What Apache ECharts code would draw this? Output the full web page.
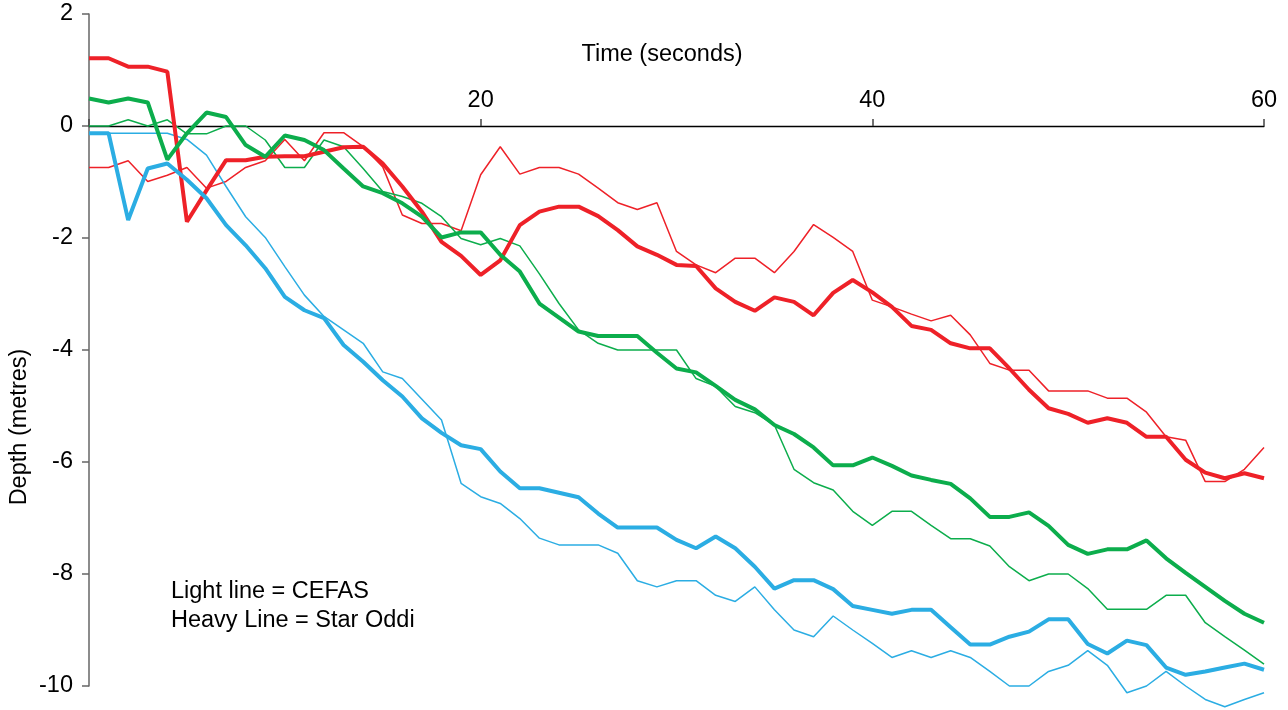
<!DOCTYPE html>
<html>
<head>
<meta charset="utf-8">
<script src="https://cdn.jsdelivr.net/npm/echarts@6/dist/echarts.min.js"></script>
<style>
  html, body { margin: 0; padding: 0; background: #fff; }
  #chart { width: 1288px; height: 710px; }
</style>
</head>
<body>
<div id="chart"></div>
<script>
// time in seconds, one reading per second
const seconds = [];
for (let s = 0; s <= 60; s++) seconds.push(s);

// depth (metres) - light lines = CEFAS
const cefasRed = [-0.74, -0.74, -0.62, -0.99, -0.88, -0.74, -1.11, -0.99, -0.74, -0.62,
  -0.24, -0.62, -0.12, -0.12, -0.37, -0.73, -1.59, -1.74, -1.74, -1.87,
  -0.87, -0.37, -0.86, -0.74, -0.74, -0.86, -1.11, -1.37, -1.49, -1.37,
  -2.24, -2.48, -2.62, -2.36, -2.36, -2.62, -2.24, -1.76, -1.99, -2.24,
  -3.11, -3.23, -3.36, -3.48, -3.38, -3.73, -4.24, -4.36, -4.36, -4.73,
  -4.73, -4.73, -4.86, -4.86, -5.11, -5.55, -5.61, -6.35, -6.35, -6.13, -5.74];
const cefasGreen = [0, 0, 0.11, 0, 0.11, -0.14, -0.14, 0, 0, -0.25,
  -0.74, -0.74, -0.25, -0.37, -0.76, -1.17, -1.26, -1.38, -1.62, -2.01,
  -2.12, -2.01, -2.14, -2.64, -3.17, -3.64, -3.88, -4.0, -4.0, -4.0,
  -4.0, -4.51, -4.65, -5.01, -5.12, -5.34, -6.13, -6.37, -6.5, -6.88,
  -7.13, -6.88, -6.88, -7.13, -7.37, -7.37, -7.5, -7.87, -8.12, -8.0,
  -8.0, -8.26, -8.63, -8.63, -8.63, -8.38, -8.38, -8.87, -9.12, -9.36, -9.61];
const cefasBlue = [-0.13, -0.13, -0.13, -0.13, -0.13, -0.24, -0.52, -1.08, -1.62, -1.99,
  -2.51, -3.02, -3.4, -3.64, -3.88, -4.39, -4.51, -4.88, -5.25, -6.38,
  -6.62, -6.74, -7.01, -7.36, -7.48, -7.48, -7.48, -7.63, -8.12, -8.23,
  -8.12, -8.12, -8.38, -8.49, -8.23, -8.64, -9.0, -9.12, -8.75, -9.0,
  -9.24, -9.49, -9.37, -9.49, -9.37, -9.49, -9.74, -10.0, -10.0, -9.74,
  -9.63, -9.37, -9.63, -10.12, -10.0, -9.74, -10.0, -10.24, -10.37, -10.24, -10.12];

// depth (metres) - heavy lines = Star Oddi
const oddiRed = [1.21, 1.21, 1.06, 1.06, 0.97, -1.71, -1.15, -0.61, -0.61, -0.55,
  -0.54, -0.54, -0.46, -0.38, -0.37, -0.67, -1.08, -1.53, -2.07, -2.32,
  -2.66, -2.4, -1.77, -1.53, -1.44, -1.44, -1.61, -1.86, -2.15, -2.3,
  -2.48, -2.5, -2.9, -3.14, -3.3, -3.06, -3.14, -3.38, -2.98, -2.75,
  -2.97, -3.23, -3.57, -3.64, -3.88, -3.97, -3.97, -4.33, -4.71, -5.04,
  -5.14, -5.3, -5.22, -5.3, -5.55, -5.55, -5.96, -6.19, -6.29, -6.2, -6.29];
const oddiGreen = [0.49, 0.42, 0.49, 0.42, -0.6, -0.13, 0.24, 0.16, -0.34, -0.55,
  -0.17, -0.25, -0.43, -0.76, -1.08, -1.2, -1.38, -1.62, -1.99, -1.9,
  -1.9, -2.3, -2.6, -3.17, -3.42, -3.67, -3.75, -3.75, -3.75, -4.05,
  -4.33, -4.4, -4.64, -4.89, -5.06, -5.34, -5.5, -5.74, -6.06, -6.06,
  -5.92, -6.07, -6.24, -6.32, -6.39, -6.65, -6.98, -6.98, -6.9, -7.14,
  -7.48, -7.64, -7.56, -7.56, -7.4, -7.72, -7.98, -8.23, -8.48, -8.71, -8.87];
const oddiBlue = [-0.13, -0.13, -1.68, -0.76, -0.67, -0.96, -1.29, -1.77, -2.13, -2.54,
  -3.05, -3.29, -3.43, -3.91, -4.21, -4.54, -4.83, -5.22, -5.48, -5.7,
  -5.77, -6.17, -6.47, -6.47, -6.55, -6.63, -6.92, -7.17, -7.17, -7.17,
  -7.39, -7.54, -7.33, -7.54, -7.87, -8.26, -8.11, -8.11, -8.27, -8.57,
  -8.64, -8.71, -8.64, -8.64, -8.95, -9.26, -9.26, -9.12, -9.03, -8.81,
  -8.81, -9.25, -9.42, -9.19, -9.27, -9.67, -9.8, -9.74, -9.67, -9.6, -9.71];

const RED = '#ee2128';
const GREEN = '#0cad4c';
const BLUE = '#2badE3';
const FONT = '"Liberation Sans", Arial, sans-serif';
const FONT_SIZE = 23.5;

function pairs(values) {
  return seconds.map((s, i) => [s, values[i]]);
}

function line(name, values, color, width) {
  return {
    name: name,
    type: 'line',
    data: pairs(values),
    symbol: 'none',
    clip: false,
    lineStyle: { color: color, width: width },
    itemStyle: { color: color }
  };
}

function label(text, x, y, extra) {
  return Object.assign({
    type: 'text', x: x, y: y,
    style: {
      text: text, fill: '#000', font: FONT_SIZE + 'px ' + FONT,
      textAlign: 'left', textVerticalAlign: 'middle'
    }
  }, extra || {});
}

// plot box: y = 2 at top (14px), y = -10 at bottom (686px) -> 56px per metre
const GRID_TOP = 14;
const PX_PER_M = 56;
const Y_MAX = 2;

const chart = echarts.init(document.getElementById('chart'));

const xTitle = label('Time (seconds)', 662, 55);
xTitle.style.textAlign = 'center';
const yTitle = label('Depth (metres)', 20, 427, { rotation: Math.PI / 2 });
yTitle.style.textAlign = 'center';

chart.setOption({
  animation: false,
  textStyle: { fontFamily: FONT },
  grid: { left: 89, right: 24, top: GRID_TOP, bottom: 24, outerBoundsMode: 'none' },
  xAxis: {
    type: 'value',
    position: 'top',
    // top axis pushed down to the depth = 0 line
    offset: -(Y_MAX * PX_PER_M),
    min: 0,
    max: 60,
    interval: 20,
    axisLine: { onZero: false, lineStyle: { color: '#000', width: 1.3 } },
    axisTick: { length: 7, lineStyle: { color: '#444', width: 1.5 } },
    axisLabel: {
      color: '#000', fontSize: FONT_SIZE, fontFamily: FONT, margin: 13,
      formatter: v => (v === 0 ? '' : String(v))
    },
    splitLine: { show: false }
  },
  yAxis: {
    type: 'value',
    min: -10,
    max: Y_MAX,
    interval: 2,
    axisLine: { show: true, lineStyle: { color: '#666', width: 1.5 } },
    axisTick: { show: true, length: 7, lineStyle: { color: '#666', width: 1.5 } },
    axisLabel: { color: '#000', fontSize: FONT_SIZE, fontFamily: FONT, margin: 16 },
    splitLine: { show: false }
  },
  graphic: [
    xTitle,
    yTitle,
    label('Light line = CEFAS', 171, 592),
    label('Heavy Line = Star Oddi', 171, 620.5)
  ],
  series: [
    line('CEFAS red', cefasRed, RED, 1.5),
    line('CEFAS green', cefasGreen, GREEN, 1.5),
    line('CEFAS blue', cefasBlue, BLUE, 1.5),
    line('Star Oddi red', oddiRed, RED, 4),
    line('Star Oddi green', oddiGreen, GREEN, 4),
    line('Star Oddi blue', oddiBlue, BLUE, 4)
  ]
});
</script>
</body>
</html>
